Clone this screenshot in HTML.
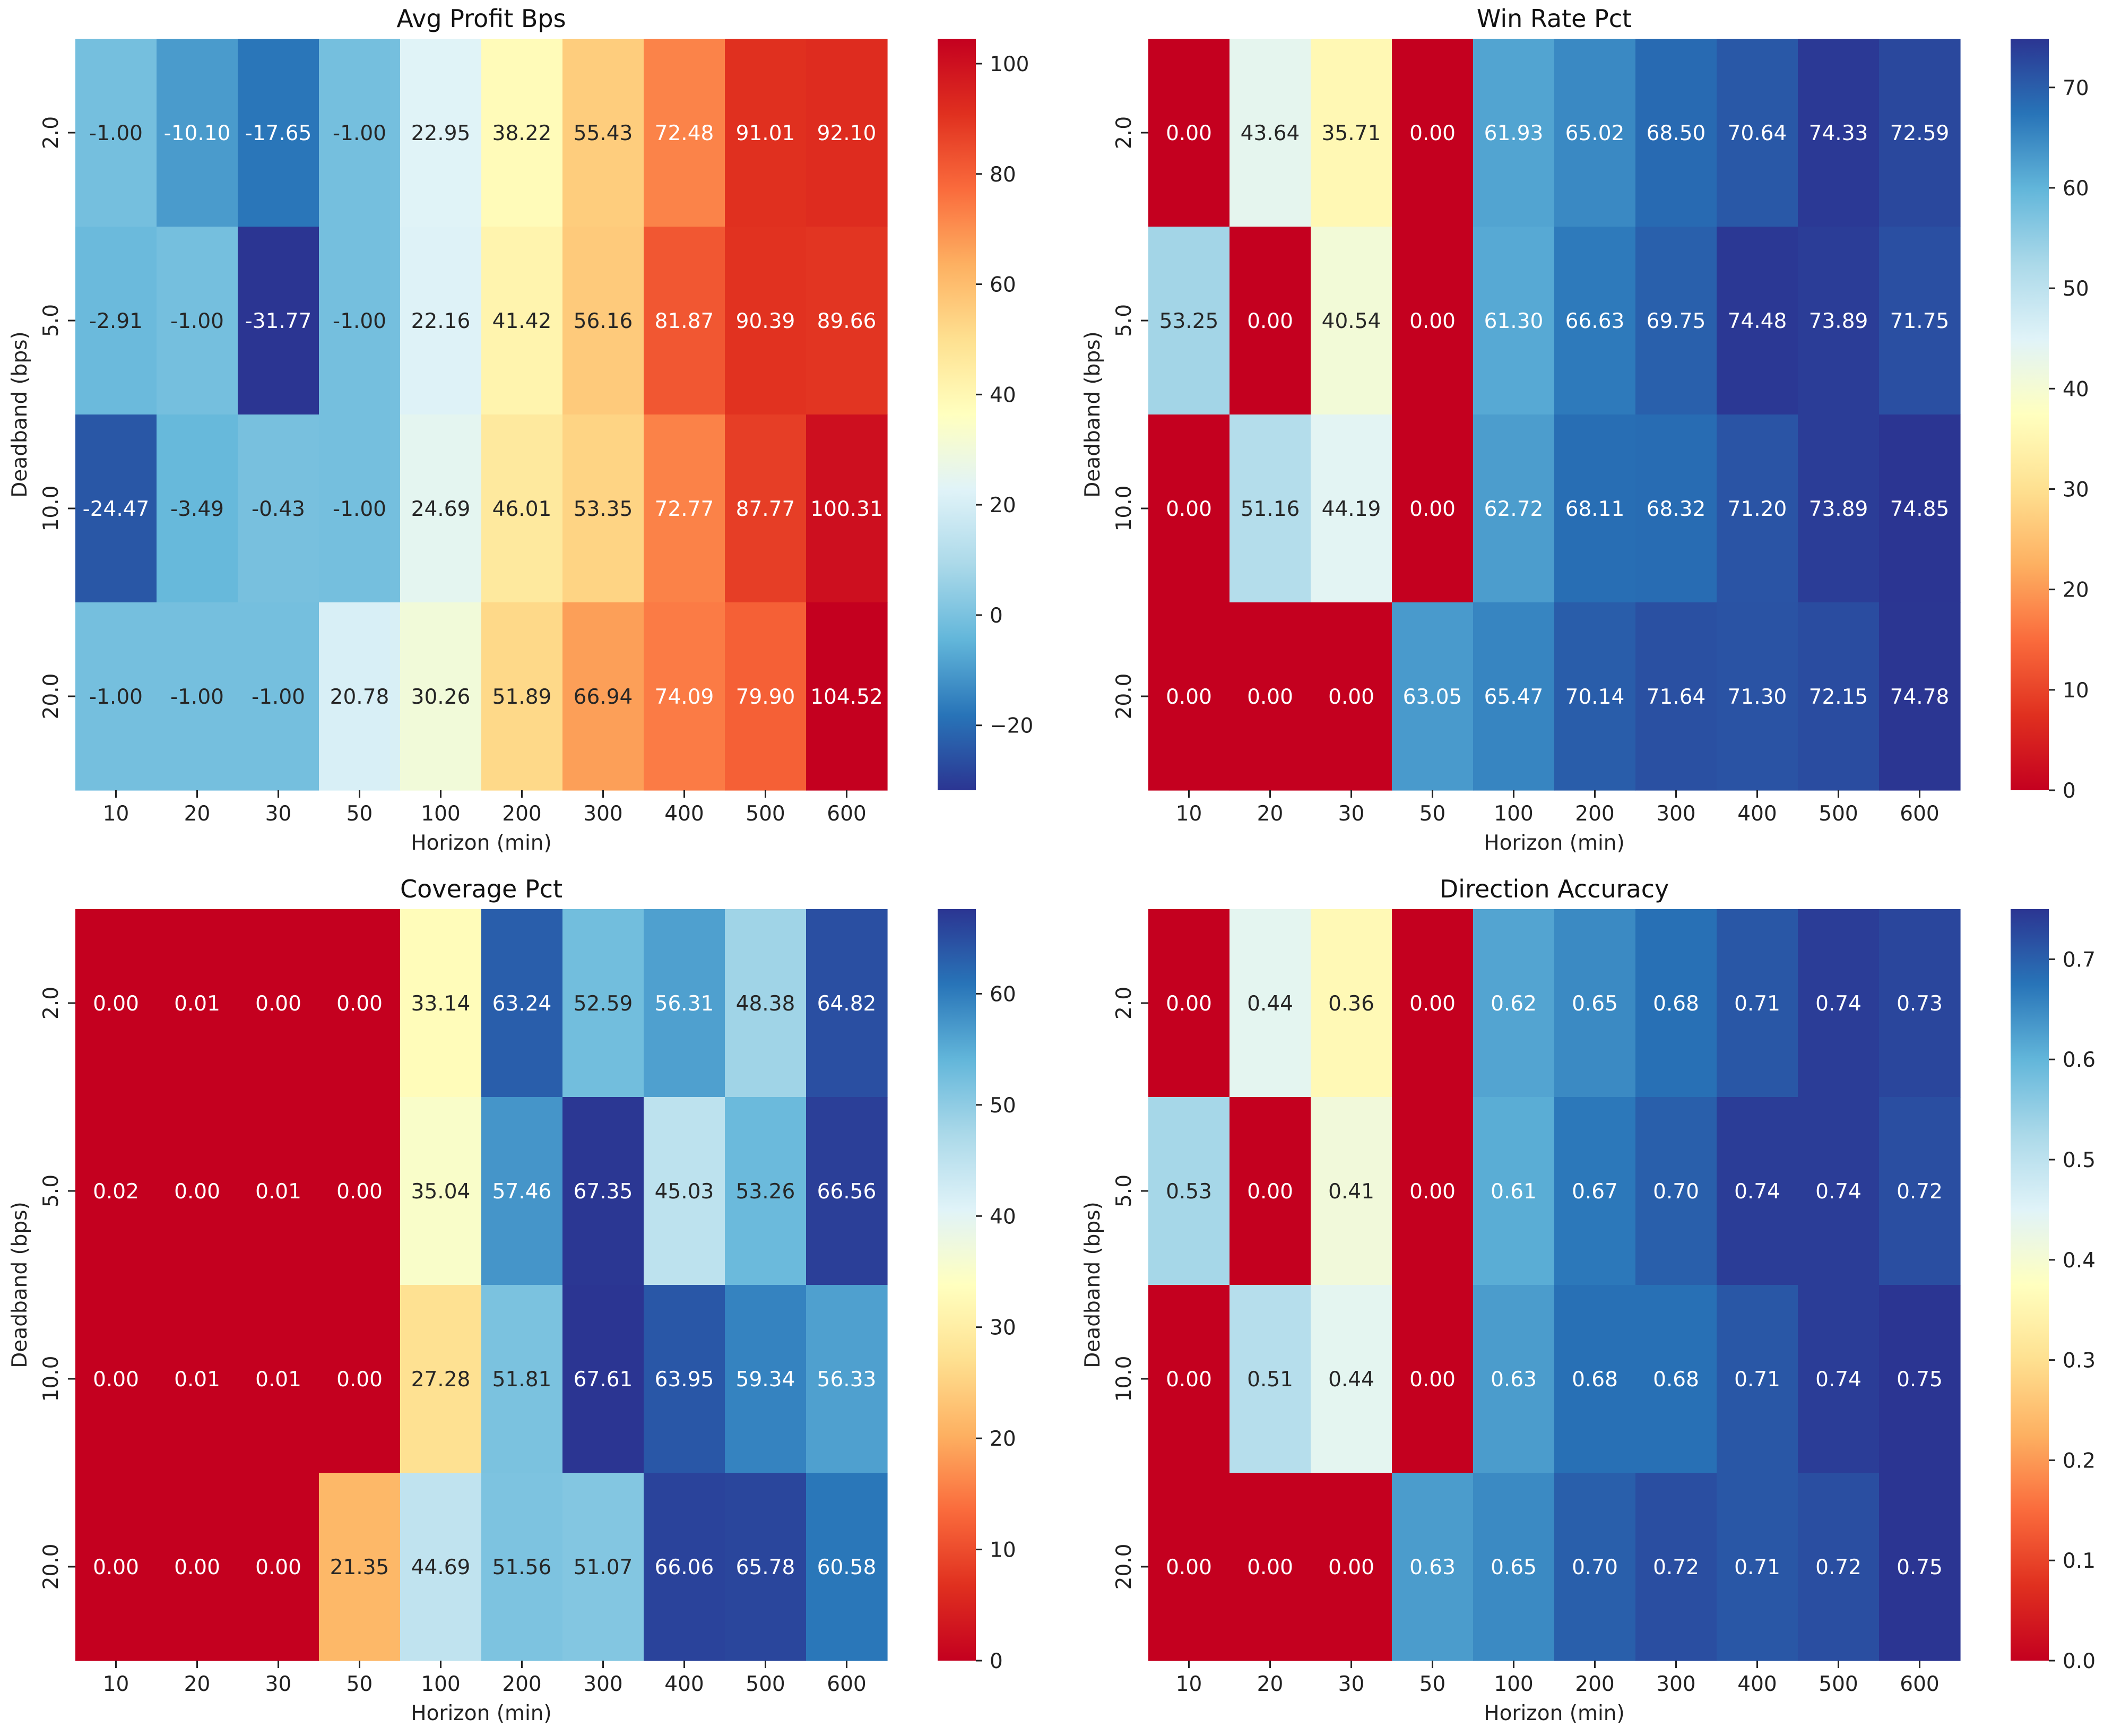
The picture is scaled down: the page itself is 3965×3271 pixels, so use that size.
<!DOCTYPE html>
<html><head><meta charset="utf-8"><style>
html,body{margin:0;padding:0;background:#fff;}
svg text{font-family:"DejaVu Sans","Liberation Sans",sans-serif;}
</style></head><body>
<svg id="fig" xmlns="http://www.w3.org/2000/svg" width="3965" height="3266" viewBox="0 0 3965 3266"></svg>
<script>
const horizons = ["10","20","30","50","100","200","300","400","500","600"];
const deadbands = ["2.0","5.0","10.0","20.0"];
const avgProfit = [
 [-1.00,-10.10,-17.65,-1.00,22.95,38.22,55.43,72.48,91.01,92.10],
 [-2.91,-1.00,-31.77,-1.00,22.16,41.42,56.16,81.87,90.39,89.66],
 [-24.47,-3.49,-0.43,-1.00,24.69,46.01,53.35,72.77,87.77,100.31],
 [-1.00,-1.00,-1.00,20.78,30.26,51.89,66.94,74.09,79.90,104.52]];
const winRate = [
 [0.00,43.64,35.71,0.00,61.93,65.02,68.50,70.64,74.33,72.59],
 [53.25,0.00,40.54,0.00,61.30,66.63,69.75,74.48,73.89,71.75],
 [0.00,51.16,44.19,0.00,62.72,68.11,68.32,71.20,73.89,74.85],
 [0.00,0.00,0.00,63.05,65.47,70.14,71.64,71.30,72.15,74.78]];
const coverage = [
 [0.00,0.01,0.00,0.00,33.14,63.24,52.59,56.31,48.38,64.82],
 [0.02,0.00,0.01,0.00,35.04,57.46,67.35,45.03,53.26,66.56],
 [0.00,0.01,0.01,0.00,27.28,51.81,67.61,63.95,59.34,56.33],
 [0.00,0.00,0.00,21.35,44.69,51.56,51.07,66.06,65.78,60.58]];
const dirAcc = [
 [0.00,0.44,0.36,0.00,0.62,0.65,0.68,0.71,0.74,0.73],
 [0.53,0.00,0.41,0.00,0.61,0.67,0.70,0.74,0.74,0.72],
 [0.00,0.51,0.44,0.00,0.63,0.68,0.68,0.71,0.74,0.75],
 [0.00,0.00,0.00,0.63,0.65,0.70,0.72,0.71,0.72,0.75]];
const ticksProfit = [-20,0,20,40,60,80,100];
const ticksWin = [0,10,20,30,40,50,60,70];
const ticksCov = [0,10,20,30,40,50,60];
const ticksDir = [0.0,0.1,0.2,0.3,0.4,0.5,0.6,0.7];

const NS="http://www.w3.org/2000/svg";
const svg=document.getElementById('fig');
const RdYlBu=["#c4001f","#e0301f","#fa6b3c","#fdb061","#fee090","#ffffbf","#e0f3f8","#abd9e9","#62b6da","#2874b8","#2b3592"];
function hex(c){return [parseInt(c.substr(1,2),16),parseInt(c.substr(3,2),16),parseInt(c.substr(5,2),16)];}
function cmap(t,rev){t=Math.max(0,Math.min(1,t)); if(rev)t=1-t; const p=t*10,i=Math.min(9,Math.floor(p)),f=p-i;
 const a=hex(RdYlBu[i]),b=hex(RdYlBu[i+1]); return a.map((v,k)=>Math.round(v+(b[k]-v)*f));}
function rgb(c){return `rgb(${c[0]},${c[1]},${c[2]})`;}
function lum(c){const l=c.map(v=>{v/=255;return v<=0.03928?v/12.92:Math.pow((v+0.055)/1.055,2.4);});return 0.2126*l[0]+0.7152*l[1]+0.0722*l[2];}
function el(tag,attrs,parent){const e=document.createElementNS(NS,tag);for(const k in attrs)e.setAttribute(k,attrs[k]);(parent||svg).appendChild(e);return e;}

function panel(cfg){
 const {x0,y0,title,data,vmin,vmax,rev,ticks,fmt,tfmt,name}=cfg;
 const W=1530,H=1416,cw=W/horizons.length,rh=H/deadbands.length;
 const g=el('g',{});  
 const sx=i=>x0+i*cw, sy=j=>y0+j*rh;
 const t=el('text',{x:x0+W/2,y:y0-22,'text-anchor':'middle','font-size':46,fill:'#111'},g);t.textContent=title;
 
 for(let j=0;j<deadbands.length;j++)for(let i=0;i<horizons.length;i++){
  const v=data[j][i],c=cmap((v-vmin)/(vmax-vmin),rev);
  const r=el('rect',{x:sx(i),y:sy(j),width:cw+0.6,height:rh+0.6,fill:rgb(c)},g);
  
  
  const tx=el('text',{x:sx(i)+cw/2,y:sy(j)+rh/2+14,'text-anchor':'middle','font-size':39,fill:lum(c)>0.408?'#262626':'#fff'},g);
  tx.textContent=fmt(v);
  
  
 }
 horizons.forEach((h,i)=>{const cx=sx(i)+cw/2;
  el('line',{x1:cx,y1:y0+H,x2:cx,y2:y0+H+14,stroke:'#222','stroke-width':3},g);
  const tl=el('text',{x:cx,y:y0+H+57,'text-anchor':'middle','font-size':39,fill:'#222'},g);tl.textContent=h;
  });
 const xl=el('text',{x:x0+W/2,y:y0+H+112,'text-anchor':'middle','font-size':39,fill:'#222'},g);xl.textContent='Horizon (min)';
 
 deadbands.forEach((d,j)=>{const cy=sy(j)+rh/2;
  el('line',{x1:x0-14,y1:cy,x2:x0,y2:cy,stroke:'#222','stroke-width':3},g);
  const tl=el('text',{x:x0-47,y:cy,'text-anchor':'middle','font-size':39,fill:'#222',transform:`rotate(-90 ${x0-47} ${cy})`,dy:14},g);tl.textContent=d;
  });
 const yl=el('text',{x:x0-92,y:y0+H/2,'text-anchor':'middle','font-size':39,fill:'#222',transform:`rotate(-90 ${x0-92} ${y0+H/2})`,dy:0},g);yl.textContent='Deadband (bps)';
 
 const cbx=x0+W+95,cbw=72;
 const gid='grad'+name;
 const defs=el('defs',{},g);const lg=el('linearGradient',{id:gid,x1:0,y1:1,x2:0,y2:0},defs);
 for(let k=0;k<=20;k++){el('stop',{offset:k/20,'stop-color':rgb(cmap(k/20,rev))},lg);}
 const cb=el('rect',{x:cbx,y:y0,width:cbw,height:H,fill:`url(#${gid})`},g);
 
 ticks.forEach(tv=>{const cy=y0+H-(tv-vmin)/(vmax-vmin)*H;
  el('line',{x1:cbx+cbw,y1:cy,x2:cbx+cbw+12,y2:cy,stroke:'#222','stroke-width':3},g);
  const tl=el('text',{x:cbx+cbw+26,y:cy+14,'font-size':39,fill:'#222'},g);tl.textContent=tfmt(tv);
  });
}
const f2=v=>v.toFixed(2);
const minus=v=>(v<0?'\u2212'+Math.abs(v):String(v));
panel({x0:142,y0:73,title:'Avg Profit Bps',data:avgProfit,vmin:-31.77,vmax:104.52,rev:true,ticks:ticksProfit,fmt:f2,tfmt:minus,name:'avg-profit-heatmap'});
panel({x0:2164,y0:73,title:'Win Rate Pct',data:winRate,vmin:0,vmax:74.85,rev:false,ticks:ticksWin,fmt:f2,tfmt:String,name:'win-rate-heatmap'});
panel({x0:142,y0:1713,title:'Coverage Pct',data:coverage,vmin:0,vmax:67.61,rev:false,ticks:ticksCov,fmt:f2,tfmt:String,name:'coverage-heatmap'});
panel({x0:2164,y0:1713,title:'Direction Accuracy',data:dirAcc,vmin:0,vmax:0.75,rev:false,ticks:ticksDir,fmt:f2,tfmt:v=>v.toFixed(1),name:'direction-accuracy-heatmap'});
</script>
</body></html>
